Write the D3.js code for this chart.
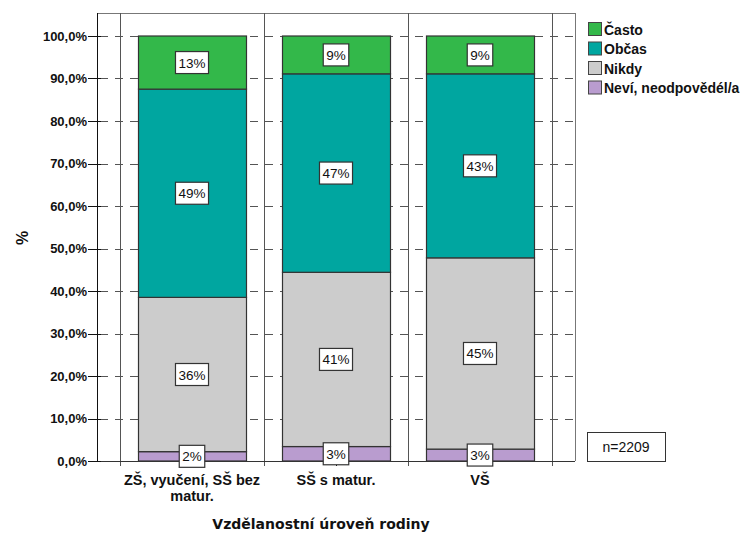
<!DOCTYPE html>
<html><head><meta charset="utf-8">
<script src="https://cdn.jsdelivr.net/npm/d3@7"></script>
<style>body{margin:0;background:#fff}svg{display:block}</style>
</head><body><svg id="c" width="747" height="536"></svg>
<script>
const categories = [["ZŠ, vyučení, SŠ bez", "matur."], ["SŠ s matur."], ["VŠ"]];
const seriesNames = ["Neví, neodpovědél/a", "Nikdy", "Občas", "Často"];
const nevi  = [2.2, 3.4, 2.8];
const nikdy = [36.3, 41.0, 45.0];
const obcas = [49.0, 46.7, 43.3];
const casto = [12.5, 8.9, 8.9];
const yTicks = [0,10,20,30,40,50,60,70,80,90,100];
const colors = ["#b99ccf", "#cccccc", "#00a6a0", "#33b84a"];
const nText = "n=2209";

const svg = d3.select("#c");
const L = 97, R = 575, T = 13, B = 461;
const x = d3.scaleBand().domain(d3.range(categories.length)).range([120, 552]).paddingInner(0).paddingOuter(0);
const y = d3.scaleLinear().domain([0, 100]).range([B, 36]);
const barW = 108;
const font = "'Liberation Sans', Arial, sans-serif";

// frame
svg.append("line").attr("x1", L).attr("x2", R).attr("y1", T + 0.5).attr("y2", T + 0.5).attr("stroke", "#777").attr("stroke-width", 1);
svg.append("line").attr("x1", R + 0.5).attr("x2", R + 0.5).attr("y1", T).attr("y2", B).attr("stroke", "#777").attr("stroke-width", 1);

// grid dashed
svg.append("g").selectAll("line").data(yTicks.filter(d => d > 0)).join("line")
  .attr("x1", L).attr("x2", R).attr("y1", d => Math.round(y(d)) + 0.5).attr("y2", d => Math.round(y(d)) + 0.5)
  .attr("stroke", "#555").attr("stroke-dasharray", "8,7").attr("stroke-dashoffset", -3);

// separator lines
const seps = d3.range(categories.length + 1).map(i => i < categories.length ? x(i) : x.range()[1]);
svg.append("g").selectAll("line").data(seps).join("line")
  .attr("x1", d => d + 0.5).attr("x2", d => d + 0.5).attr("y1", T).attr("y2", B + 5)
  .attr("stroke", "#555").attr("stroke-width", 1);

// stacked bars
const rows = categories.map((c, i) => ({i, vals: [nevi[i], nikdy[i], obcas[i], casto[i]]}));
const stackData = [];
rows.forEach(r => {
  let acc = 0;
  r.vals.forEach((v, k) => { stackData.push({i: r.i, k, y0: acc, y1: acc + v, v}); acc += v; });
});
const cx = i => x(i) + x.bandwidth() / 2;
svg.append("g").selectAll("rect").data(stackData).join("rect")
  .attr("x", d => cx(d.i) - barW / 2 + 0.5).attr("width", barW)
  .attr("y", d => y(d.y1)).attr("height", d => y(d.y0) - y(d.y1))
  .attr("fill", d => colors[d.k]).attr("stroke", "#333").attr("stroke-width", 1.2);

// axes lines
svg.append("line").attr("x1", L).attr("x2", R).attr("y1", B + 0.5).attr("y2", B + 0.5).attr("stroke", "#333");
svg.append("line").attr("x1", L + 0.5).attr("x2", L + 0.5).attr("y1", T).attr("y2", B).attr("stroke", "#111");

// y ticks
const yt = svg.append("g");
yt.selectAll("line").data(yTicks).join("line")
  .attr("x1", L - 9).attr("x2", L + 4).attr("y1", d => Math.round(y(d)) + 0.5).attr("y2", d => Math.round(y(d)) + 0.5).attr("stroke", "#111");
yt.selectAll("text").data(yTicks).join("text")
  .attr("x", L - 10).attr("y", d => y(d) + 4.5).attr("text-anchor", "end")
  .attr("font-family", font).attr("font-weight", "bold").attr("font-size", 13).attr("fill", "#111")
  .text(d => d3.format(".1f")(d).replace(".", ",") + "%");

// x ticks
svg.append("g").selectAll("line").data(d3.range(categories.length)).join("line")
  .attr("x1", d => cx(d) + 0.5).attr("x2", d => cx(d) + 0.5).attr("y1", B).attr("y2", B + 5).attr("stroke", "#111");

// x labels
const xl = svg.append("g").selectAll("text").data(categories).join("text")
  .attr("x", (d, i) => cx(i)).attr("y", 485).attr("text-anchor", "middle")
  .attr("font-family", font).attr("font-weight", "bold").attr("font-size", 14.5).attr("fill", "#111");
xl.selectAll("tspan").data(d => d).join("tspan")
  .attr("x", function() { return this.parentNode.getAttribute("x"); })
  .attr("dy", (d, j) => j === 0 ? 0 : 16).text(d => d);

// segment labels
const lab = svg.append("g").selectAll("g").data(stackData).join("g")
  .attr("transform", d => `translate(${cx(d.i)},${y((d.y0 + d.y1) / 2)})`);
lab.append("text").attr("text-anchor", "middle").attr("y", 5)
  .attr("font-family", font).attr("font-size", 13.5).attr("fill", "#111")
  .text(d => Math.round(d.v) + "%");
lab.each(function() {
  const g = d3.select(this), bb = g.select("text").node().getBBox();
  g.insert("rect", "text").attr("x", bb.x - 3).attr("y", -11).attr("width", bb.width + 6).attr("height", 22)
    .attr("fill", "#fff").attr("stroke", "#333").attr("stroke-width", 1.2);
});

// axis titles
svg.append("text").attr("transform", "translate(28,238) rotate(-90)").attr("text-anchor", "middle")
  .attr("font-family", font).attr("font-weight", "bold").attr("font-size", 16).attr("fill", "#111").text("%");
svg.append("text").attr("x", 321).attr("y", 529).attr("text-anchor", "middle")
  .attr("font-family", "'DejaVu Sans', sans-serif").attr("font-weight", "bold").attr("font-size", 14).attr("fill", "#111")
  .text("Vzdělanostní úroveň rodiny");

// legend
const legOrder = [3, 2, 1, 0];
const lg = svg.append("g").selectAll("g").data(legOrder).join("g")
  .attr("transform", (d, j) => `translate(588,${22 + j * 19.5})`);
lg.append("rect").attr("x", 0.5).attr("y", 0.5).attr("width", 13).attr("height", 13)
  .attr("fill", d => colors[d]).attr("stroke", "#444");
lg.append("text").attr("x", 16).attr("y", 12.5).attr("font-family", font).attr("font-weight", "bold")
  .attr("font-size", 14).attr("fill", "#111").text(d => seriesNames[d]);

// n box
svg.append("rect").attr("x", 587.5).attr("y", 432.5).attr("width", 78).attr("height", 29)
  .attr("fill", "#fff").attr("stroke", "#333");
svg.append("text").attr("x", 626).attr("y", 452).attr("text-anchor", "middle")
  .attr("font-family", font).attr("font-size", 14).attr("fill", "#111").text(nText);
</script></body></html>
